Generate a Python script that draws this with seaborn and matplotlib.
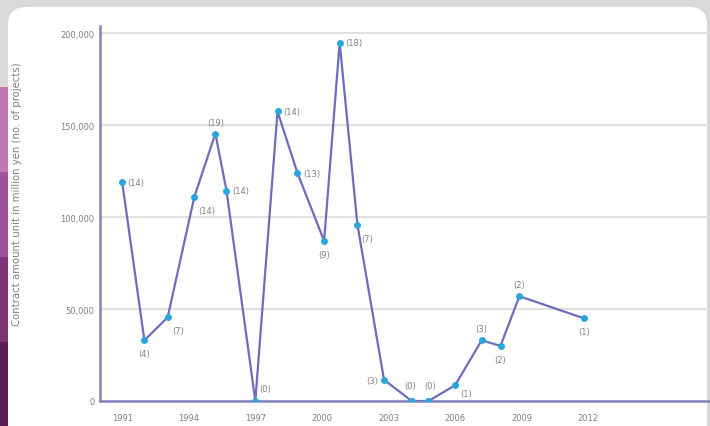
import matplotlib
matplotlib.use("Agg")
import matplotlib.pyplot as plt
from matplotlib.patches import FancyBboxPatch, Rectangle
import numpy as np
import pandas as pd
import seaborn as sns

# ---- data ----
years = [1991.0, 1992.0, 1993.05, 1994.25, 1995.2, 1995.7, 1997.0, 1998.0, 1998.9,
         2000.1, 2000.8, 2001.6, 2002.8, 2004.05, 2004.8, 2006.0, 2007.2, 2008.05,
         2008.9, 2011.8]
amounts = [119000, 33000, 45500, 111000, 145500, 114500, 0, 157500, 124000,
           87000, 195000, 96000, 11500, 0, 0, 8500, 33000, 30000, 57000, 45000]
projects = ["(14)", "(4)", "(7)", "(14)", "(19)", "(14)", "(0)", "(14)", "(13)",
            "(9)", "(18)", "(7)", "(3)", "(0)", "(0)", "(1)", "(3)", "(2)", "(2)", "(1)"]
label_pos = ["r", "b", "br", "br", "t", "r", "tr", "r", "r",
             "b", "r", "br", "l", "t0", "t1", "rs", "t", "b", "t", "b"]
xtick_years = [1991, 1994, 1997, 2000, 2003, 2006, 2009, 2012]
xtick_labels = ["1991", "1994", "1997", "2000", "2003", "2006", "2009", "2012"]
ytick_vals = [0, 50000, 100000, 150000, 200000]
ytick_labels = ["0", "50,000", "100,000", "150,000", "200,000"]
ylabel = "Contract amount unit in million yen (no. of projects)"

df = pd.DataFrame({"year": years, "amount": amounts})

sns.set_style("white")
plt.rcParams["font.family"] = ["DejaVu Sans"]

W, H = 710, 427
fig = plt.figure(figsize=(W / 100, H / 100), dpi=100)
fig.patch.set_facecolor("#d9d9d9")

# background axes holding the panel decoration
bg = fig.add_axes([0, 0, 1, 1], zorder=0)
bg.set_xlim(0, W)
bg.set_ylim(H, 0)
bg.axis("off")
for i, c in enumerate(["#c07ab2", "#a0539a", "#7c3276", "#5a1d58"]):
    bg.add_patch(Rectangle((0, 88 + i * 85), 9, 85, facecolor=c, edgecolor="none"))
bg.add_patch(FancyBboxPatch((8, 8), W - 11, H + 20,
                            boxstyle="round,pad=0,rounding_size=18",
                            facecolor="white", edgecolor="none"))

ax_left, ax_right = 100 / W, 709 / W
ax_bottom, ax_top = (H - 402) / H, (H - 27) / H
ax = fig.add_axes([ax_left, ax_bottom, ax_right - ax_left, ax_top - ax_bottom], zorder=1)
ax.set_facecolor("none")

line_col = "#6d6dbb"
mk_col = "#27a6df"
sns.lineplot(data=df, x="year", y="amount", ax=ax, color=line_col, linewidth=1.6,
             marker="o", markersize=4.2, markerfacecolor=mk_col,
             markeredgecolor=mk_col, sort=False, zorder=3)

ax.set_xlim(1990.0, 1990.0 + (709 - 100) / 22.19)
ax.set_ylim(0, 204000)
ax.set_xticks(xtick_years)
ax.set_xticklabels(xtick_labels)
ax.set_yticks(ytick_vals)
ax.set_yticklabels(ytick_labels)
ax.tick_params(axis="both", labelsize=6, labelcolor="#808080")
ax.tick_params(axis="y", length=3, width=0.8, color="#9a9ac8", pad=1)
ax.tick_params(axis="x", length=0, pad=9)
ax.set_xlabel("")
ax.set_ylabel(ylabel, fontsize=7.3, color="#808080")
ax.yaxis.set_label_coords(-0.128, 0.555)

ax.grid(axis="y", color="#e0e0e0", linewidth=1.5)
ax.grid(axis="x", visible=False)
for s in ["top", "right"]:
    ax.spines[s].set_visible(False)
for s in ["left", "bottom"]:
    ax.spines[s].set_color("#8484bd")
    ax.spines[s].set_linewidth(1.8)
ax.spines["bottom"].set_zorder(2)

offsets = {"r": (4, -3.5, "left"), "b": (0, -13, "center"), "br": (3, -13, "left"),
           "t": (0, 5, "center"), "tr": (3, 6, "left"), "l": (-4, -3.5, "right"),
           "t0": (-1, 8, "center"), "t1": (1, 8, "center"), "rs": (4, -9, "left")}
for x, y, t, p in zip(years, amounts, projects, label_pos):
    dx, dy, ha = offsets[p]
    ax.annotate(t, (x, y), xytext=(dx, dy), textcoords="offset points",
                ha=ha, va="bottom", fontsize=6, color="#808080", zorder=4)

fig.savefig("out.png", dpi=100, facecolor=fig.get_facecolor())
